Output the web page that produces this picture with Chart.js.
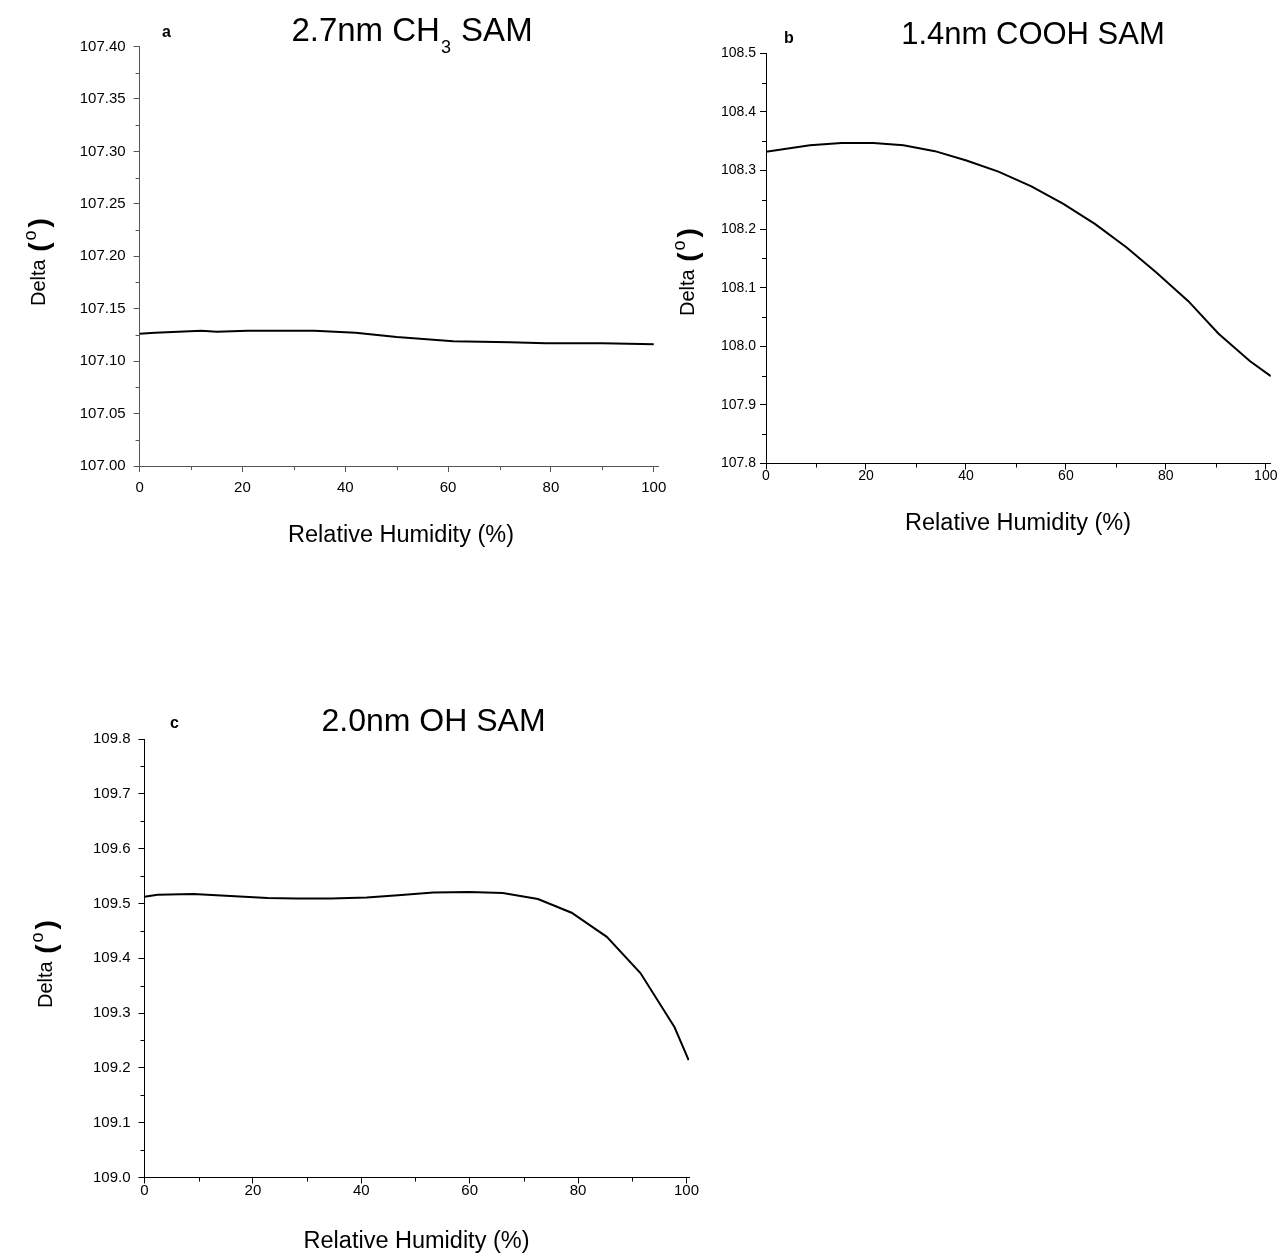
<!DOCTYPE html>
<html><head><meta charset="utf-8">
<script src="https://cdn.jsdelivr.net/npm/chart.js@4.4.1/dist/chart.umd.min.js"></script>
<style>
html,body{margin:0;padding:0;background:#fff;overflow:hidden;width:1280px;height:1257px;position:relative;}
canvas{position:absolute;}
</style></head><body>
<canvas id="ca" style="left:0px;top:0px;width:680px;height:560px" width="680" height="560"></canvas>
<canvas id="cb" style="left:660px;top:0px;width:660px;height:560px" width="660" height="560"></canvas>
<canvas id="cc" style="left:0px;top:660px;width:720px;height:597px" width="720" height="597"></canvas>
<script>
// ---- data ----
const rhA = [0, 3, 12, 15, 21, 28, 34, 42, 50, 61, 72, 79, 90, 100];
const deltaA = [107.126, 107.127, 107.129, 107.128, 107.129, 107.129, 107.129, 107.127, 107.123, 107.119, 107.118, 107.117, 107.117, 107.116];

const rhB = [0, 8.8, 15.1, 21.5, 27.5, 33.8, 40.1, 46.5, 53.1, 59.5, 65.8, 72.1, 78.1, 84.5, 90.5, 96.8, 101];
const deltaB = [108.332, 108.343, 108.347, 108.347, 108.343, 108.333, 108.317, 108.298, 108.273, 108.243, 108.209, 108.169, 108.126, 108.077, 108.022, 107.975, 107.949];

const rhC = [0, 2.4, 9, 15, 22.7, 28, 34.4, 41, 46.8, 53.3, 59.9, 66.1, 72.6, 78.8, 85.3, 91.5, 97.8, 100.4];
const deltaC = [109.512, 109.516, 109.517, 109.514, 109.510, 109.509, 109.509, 109.511, 109.515, 109.520, 109.521, 109.519, 109.508, 109.483, 109.439, 109.373, 109.274, 109.214];

const xTicks = [0, 20, 40, 60, 80, 100];
const xMinor = [10, 30, 50, 70, 90];
const yTicksA = [107.00, 107.05, 107.10, 107.15, 107.20, 107.25, 107.30, 107.35, 107.40];
const yMinorA = [107.025, 107.075, 107.125, 107.175, 107.225, 107.275, 107.325, 107.375];
const yTicksB = [107.8, 107.9, 108.0, 108.1, 108.2, 108.3, 108.4, 108.5];
const yMinorB = [107.85, 107.95, 108.05, 108.15, 108.25, 108.35, 108.45];
const yTicksC = [109.0, 109.1, 109.2, 109.3, 109.4, 109.5, 109.6, 109.7, 109.8];
const yMinorC = [109.05, 109.15, 109.25, 109.35, 109.45, 109.55, 109.65, 109.75];

const titleA = [['2.7nm CH', 0], ['3', 1], [' SAM', 0]];
const titleB = [['1.4nm COOH SAM', 0]];
const titleC = [['2.0nm OH SAM', 0]];
const xLabel = 'Relative Humidity (%)';
const yLabel = 'Delta';

const FAM = '"Liberation Sans", Arial, Helvetica, sans-serif';

function textPlugin(p) {
  return {
    id: 'texts',
    afterDraw(chart) {
      const ctx = chart.ctx;
      const ox = p.ox, oy = p.oy;
      ctx.save();
      ctx.fillStyle = '#000';
      ctx.textBaseline = 'alphabetic';
      // minor ticks
      const xs = chart.scales.x, ys = chart.scales.y;
      ctx.strokeStyle = p.axisColor;
      ctx.lineWidth = 1;
      ctx.beginPath();
      xMinor.forEach(v => {
        const px = Math.round(xs.getPixelForValue(v)) + 0.5;
        ctx.moveTo(px, ys.bottom); ctx.lineTo(px, ys.bottom + 4);
      });
      p.yMinor.forEach(v => {
        const py = Math.round(ys.getPixelForValue(v)) + 0.5;
        ctx.moveTo(xs.left, py); ctx.lineTo(xs.left - 4, py);
      });
      ctx.stroke();
      // title pieces
      const big = p.titleSize, small = 18;
      let total = 0;
      p.title.forEach(([t, sub]) => { ctx.font = (sub ? small : big) + 'px ' + FAM; total += ctx.measureText(t).width + (sub ? 2 : 0); });
      let x = p.titleX - ox - total / 2;
      p.title.forEach(([t, sub]) => {
        ctx.font = (sub ? small : big) + 'px ' + FAM;
        ctx.textAlign = 'left';
        ctx.fillText(t, x + (sub ? 1 : 0), p.titleY - oy + (sub ? 12 : 0));
        x += ctx.measureText(t).width + (sub ? 2 : 0);
      });
      // panel letter
      ctx.font = 'bold 16px ' + FAM;
      ctx.fillText(p.letter, p.letterX - ox, p.letterY - oy);
      // x label
      ctx.font = '23.5px ' + FAM;
      ctx.textAlign = 'center';
      ctx.fillText(xLabel, p.xlX - ox, p.xlY - oy);
      // y label rotated
      ctx.translate(p.ylX - ox, p.ylY - oy);
      ctx.rotate(-Math.PI / 2);
      ctx.textAlign = 'left';
      let yx = 0;
      ctx.font = '20px ' + FAM;
      ctx.fillText(yLabel + ' ', yx, 0); yx += ctx.measureText(yLabel + ' ').width + 2;
      ctx.font = 'bold 28px ' + FAM;
      ctx.fillText('(', yx, 3); yx += ctx.measureText('(').width + 2;
      ctx.font = '18px ' + FAM;
      ctx.fillText('o', yx, -9); yx += ctx.measureText('o').width + 3;
      ctx.font = 'bold 28px ' + FAM;
      ctx.fillText(')', yx, 3);
      ctx.restore();
    }
  };
}

function makeChart(id, c) {
  new Chart(document.getElementById(id), {
    type: 'line',
    data: { datasets: [{ data: c.x.map((v, i) => ({ x: v, y: c.y[i] })), borderColor: '#000', borderWidth: 2, pointRadius: 0, tension: 0, fill: false }] },
    options: {
      responsive: false, animation: false, devicePixelRatio: 1,
      layout: { padding: { left: 0, top: c.padTop, right: c.padRight, bottom: 0 } },
      plugins: { legend: { display: false }, tooltip: { enabled: false }, title: { display: false } },
      scales: {
        x: {
          type: 'linear', min: 0, max: c.xMax,
          afterBuildTicks: s => { s.ticks = xTicks.map(v => ({ value: v })); },
          afterFit: s => { s.height = c.xAxisH; },
          grid: { drawOnChartArea: false, drawTicks: true, tickLength: 6, tickColor: c.axisColor },
          border: { display: true, color: c.axisColor, width: 1 },
          ticks: { color: '#000', font: { family: FAM, size: c.tickSize, lineHeight: 1 }, padding: c.xPad, maxRotation: 0, autoSkip: false, callback: v => String(v) }
        },
        y: {
          type: 'linear', min: c.yTicks[0], max: c.yTicks[c.yTicks.length - 1],
          afterBuildTicks: s => { s.ticks = c.yTicks.map(v => ({ value: v })); },
          afterFit: s => { s.width = c.yAxisW; },
          grid: { drawOnChartArea: false, drawTicks: true, tickLength: 6, tickColor: c.axisColor },
          border: { display: true, color: c.axisColor, width: 1 },
          ticks: { color: '#000', font: { family: FAM, size: c.tickSize, lineHeight: 1 }, padding: c.yPad, autoSkip: false, callback: v => Number(v).toFixed(c.dec) }
        }
      }
    },
    plugins: [textPlugin(c.text)]
  });
}

makeChart('ca', {
  x: rhA, y: deltaA, yTicks: yTicksA, dec: 2, xMax: 101,
  padTop: 46.5, padRight: 21.1, xAxisH: 94, yAxisW: 139.6,
  axisColor: '#555', tickSize: 15, xPad: 8, yPad: 8,
  text: { ox: 0, oy: 0, axisColor: '#555', yMinor: yMinorA, title: titleA, titleSize: 33, titleX: 412, titleY: 40.7,
          letter: 'a', letterX: 162, letterY: 37, xlX: 401, xlY: 542, ylX: 45, ylY: 306 }
});
makeChart('cb', {
  x: rhB, y: deltaB, yTicks: yTicksB, dec: 1, xMax: 101,
  padTop: 53.3, padRight: 49.2, xAxisH: 96.5, yAxisW: 106,
  axisColor: '#000', tickSize: 14, xPad: 0, yPad: 4,
  text: { ox: 660, oy: 0, axisColor: '#000', yMinor: yMinorB, title: titleB, titleSize: 31, titleX: 1033, titleY: 44,
          letter: 'b', letterX: 784, letterY: 43.3, xlX: 1018, xlY: 530, ylX: 694, ylY: 316 }
});
makeChart('cc', {
  x: rhC, y: deltaC, yTicks: yTicksC, dec: 1, xMax: 100.5,
  padTop: 79, padRight: 30.8, xAxisH: 79.5, yAxisW: 144.5,
  axisColor: '#000', tickSize: 15, xPad: 0, yPad: 8,
  text: { ox: 0, oy: 660, axisColor: '#000', yMinor: yMinorC, title: titleC, titleSize: 32, titleX: 433.5, titleY: 731,
          letter: 'c', letterX: 170, letterY: 728, xlX: 416.5, xlY: 1248, ylX: 52, ylY: 1008 }
});
</script>
</body></html>
